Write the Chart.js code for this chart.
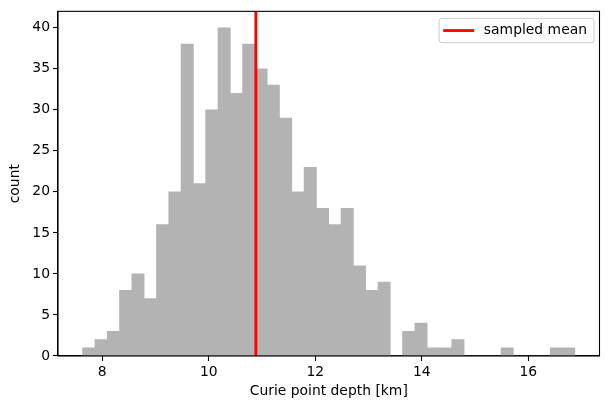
<!DOCTYPE html>
<html>
<head>
<meta charset="utf-8">
<script src="https://cdn.jsdelivr.net/npm/chart.js@4.4.1/dist/chart.umd.min.js"></script>
<style>
  html, body { margin: 0; padding: 0; background: #fff; }
  #wrap { width: 609px; height: 410px; }
</style>
</head>
<body>
<div id="wrap"><canvas id="histChart" width="609" height="410"></canvas></div>
<script>
// histogram bins (km) and counts
const binStart = 7.631;
const binWidth = 0.2311;
const counts = [1, 2, 3, 8, 10, 7, 16, 20, 38, 21,
                30, 40, 32, 38, 35, 33, 29, 20, 23, 18,
                16, 18, 11, 8, 9, 0, 3, 4, 1, 1,
                2, 0, 0, 0, 1, 0, 0, 0, 1, 1];
const sampledMean = 10.884;
const xTicks = [8, 10, 12, 14, 16];
const yTicks = [0, 5, 10, 15, 20, 25, 30, 35, 40];
const xRange = [7.169, 17.338];
const yRange = [0, 42];

const fontFamily = '"DejaVu Sans", sans-serif';
const fontSize = 13.9;

const histData = counts.map((c, i) => ({ x: binStart + binWidth * (i + 0.5), y: c }));

// matplotlib style frame + legend box (upper right)
const framePlugin = {
	id: 'frame',
	afterDraw(chart) {
		const ctx = chart.ctx;
		const a = chart.chartArea;
		ctx.save();
		ctx.strokeStyle = '#000';
		ctx.lineWidth = 1.1;
		ctx.strokeRect(a.left, a.top, a.right - a.left, a.bottom - a.top);

		const ds = chart.data.datasets[1];
		ctx.font = fontSize + 'px ' + fontFamily;
		const tw = ctx.measureText(ds.label).width;
		const lineLen = 31, padL = 4, gap = 9.7, padR = 7, h = 24.4;
		const w = padL + lineLen + gap + tw + padR;
		const x = a.right - 5.5 - w;
		const y = a.top + 7;
		ctx.beginPath();
		ctx.roundRect(x, y, w, h, 3);
		ctx.fillStyle = 'rgba(255,255,255,0.8)';
		ctx.fill();
		ctx.strokeStyle = 'rgb(204,204,204)';
		ctx.lineWidth = 1;
		ctx.stroke();

		const cy = y + h / 2;
		ctx.beginPath();
		ctx.moveTo(x + padL, cy);
		ctx.lineTo(x + padL + lineLen, cy);
		ctx.strokeStyle = ds.borderColor;
		ctx.lineWidth = ds.borderWidth;
		ctx.stroke();

		ctx.fillStyle = '#000';
		ctx.textBaseline = 'middle';
		ctx.textAlign = 'left';
		ctx.fillText(ds.label, x + padL + lineLen + gap, cy);
		ctx.restore();
	}
};

const ctx = document.getElementById('histChart').getContext('2d');
const histChart = new Chart(ctx, {
	type: 'bar',
	data: {
		datasets: [{
			label: 'counts',
			data: histData,
			backgroundColor: 'rgb(179,179,179)',
			borderWidth: 0,
			barPercentage: 1,
			categoryPercentage: 1,
			order: 2
		}, {
			type: 'line',
			label: 'sampled mean',
			data: [{ x: sampledMean, y: yRange[0] }, { x: sampledMean, y: yRange[1] }],
			borderColor: '#ff0000',
			backgroundColor: '#ff0000',
			borderWidth: 2.8,
			pointRadius: 0,
			order: 1
		}]
	},
	options: {
		responsive: false,
		animation: false,
		layout: { padding: { top: 10, right: 9.5, left: 0, bottom: 0 } },
		plugins: {
			tooltip: { enabled: false },
			legend: { display: false }
		},
		scales: {
			x: {
				type: 'linear',
				min: xRange[0],
				max: xRange[1],
				offset: false,
				afterBuildTicks: s => { s.ticks = xTicks.map(v => ({ value: v })); },
				afterFit: s => { s.height = 54; },
				grid: { offset: false, drawOnChartArea: false, drawTicks: true, tickLength: 5, color: '#000', tickWidth: 1.1 },
				border: { display: true, color: '#000', width: 1.1 },
				ticks: { font: { family: fontFamily, size: fontSize }, color: '#000', padding: 3, maxRotation: 0 },
				title: { display: true, text: 'Curie point depth [km]', font: { family: fontFamily, size: fontSize }, color: '#000', padding: { top: 0, bottom: 10 } }
			},
			y: {
				min: yRange[0],
				max: yRange[1],
				afterBuildTicks: s => { s.ticks = yTicks.map(v => ({ value: v })); },
				afterFit: s => { s.width = 58; },
				grid: { drawOnChartArea: false, drawTicks: true, tickLength: 5, color: '#000', tickWidth: 1.1 },
				border: { display: true, color: '#000', width: 1.1 },
				ticks: { font: { family: fontFamily, size: fontSize }, color: '#000', padding: 3 },
				title: { display: true, text: 'count', font: { family: fontFamily, size: fontSize }, color: '#000', padding: { top: 7, bottom: 0 } }
			}
		}
	},
	plugins: [framePlugin]
});
</script>
</body>
</html>
